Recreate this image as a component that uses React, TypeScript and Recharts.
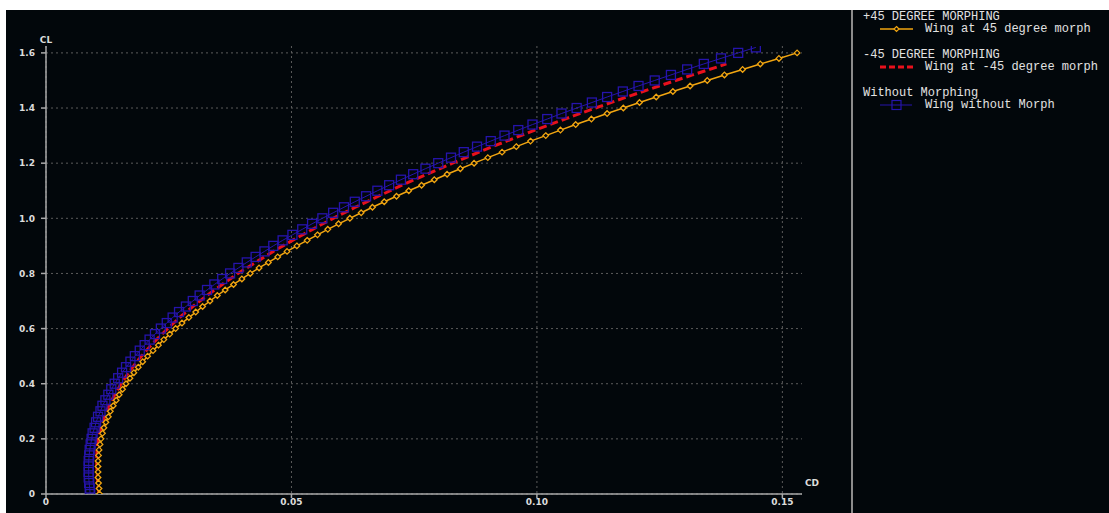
import React from 'react';
import { LineChart, Line, XAxis, YAxis, CartesianGrid, Legend, Label } from 'recharts';

// CL / CD readings, wing at +45 degree morph
const plusCL = [
  0, 0.02, 0.04, 0.06, 0.08, 0.1, 0.12, 0.14, 0.16, 0.18, 0.2, 0.22, 0.24, 0.26, 0.28, 0.3,
  0.32, 0.34, 0.36, 0.38, 0.4, 0.42, 0.44, 0.46, 0.48, 0.5, 0.52, 0.54, 0.56, 0.58, 0.6,
  0.62, 0.64, 0.66, 0.68, 0.7, 0.72, 0.74, 0.76, 0.78, 0.8, 0.82, 0.84, 0.86, 0.88, 0.9,
  0.92, 0.94, 0.96, 0.98, 1.0, 1.02, 1.04, 1.06, 1.08, 1.1, 1.12, 1.14, 1.16, 1.18, 1.2,
  1.22, 1.24, 1.26, 1.28, 1.3, 1.32, 1.34, 1.36, 1.38, 1.4, 1.42, 1.44, 1.46, 1.48, 1.5,
  1.52, 1.54, 1.56, 1.58, 1.6,
];
const plusCD = [
  0.0109, 0.0108, 0.0107, 0.0106, 0.0106, 0.0106, 0.0106, 0.0107, 0.0108, 0.011, 0.0112,
  0.0115, 0.0118, 0.0122, 0.0127, 0.0131, 0.0137, 0.0143, 0.0149, 0.0156, 0.0163,
  0.0171, 0.0179, 0.0188, 0.0197, 0.0207, 0.0218, 0.0229, 0.024, 0.0252, 0.0264,
  0.0277, 0.0291, 0.0305, 0.0319, 0.0334, 0.0349, 0.0365, 0.0382, 0.0399, 0.0416,
  0.0434, 0.0453, 0.0472, 0.0491, 0.0511, 0.0532, 0.0553, 0.0574, 0.0596, 0.0619,
  0.0642, 0.0665, 0.0689, 0.0714, 0.0739, 0.0765, 0.0791, 0.0817, 0.0844, 0.0872,
  0.09, 0.0929, 0.0958, 0.0987, 0.1018, 0.1048, 0.1079, 0.1111, 0.1143, 0.1176,
  0.1209, 0.1243, 0.1277, 0.1312, 0.1347, 0.1382, 0.1419, 0.1455, 0.1493, 0.153,
];

// wing at -45 degree morph
const minusCL = [
  0, 0.04, 0.08, 0.12, 0.16, 0.2, 0.24, 0.28, 0.32, 0.36, 0.4, 0.44, 0.48, 0.52, 0.56, 0.6,
  0.64, 0.68, 0.72, 0.76, 0.8, 0.84, 0.88, 0.92, 0.96, 1.0, 1.04, 1.08, 1.12, 1.16, 1.2,
  1.24, 1.28, 1.32, 1.36, 1.4, 1.44, 1.48, 1.52, 1.56,
];
const minusCD = [
  0.0108, 0.0105, 0.0104, 0.0103, 0.0104, 0.0106, 0.0112, 0.0119, 0.0128, 0.014, 0.0153,
  0.0168, 0.0185, 0.0204, 0.0225, 0.0248, 0.0272, 0.0299, 0.0328, 0.0359, 0.0391,
  0.0427, 0.0463, 0.0502, 0.0543, 0.0585, 0.063, 0.0677, 0.0725, 0.0776, 0.0828,
  0.0882, 0.0938, 0.0996, 0.1057, 0.1119, 0.1183, 0.1249, 0.1317, 0.1386,
];

// wing without morph
const baseCL = [
  0, 0.02, 0.04, 0.06, 0.08, 0.1, 0.12, 0.14, 0.16, 0.18, 0.2, 0.22, 0.24, 0.26, 0.28, 0.3,
  0.32, 0.34, 0.36, 0.38, 0.4, 0.42, 0.44, 0.46, 0.48, 0.5, 0.52, 0.54, 0.56, 0.58, 0.6,
  0.62, 0.64, 0.66, 0.68, 0.7, 0.72, 0.74, 0.76, 0.78, 0.8, 0.82, 0.84, 0.86, 0.88, 0.9,
  0.92, 0.94, 0.96, 0.98, 1.0, 1.02, 1.04, 1.06, 1.08, 1.1, 1.12, 1.14, 1.16, 1.18, 1.2,
  1.22, 1.24, 1.26, 1.28, 1.3, 1.32, 1.34, 1.36, 1.38, 1.4, 1.42, 1.44, 1.46, 1.48, 1.5,
  1.52, 1.54, 1.56, 1.58, 1.6, 1.62,
];
const baseCD = [
  0.009, 0.0089, 0.0088, 0.0087, 0.0087, 0.0087, 0.0087, 0.0088, 0.0089, 0.0091, 0.0093,
  0.0095, 0.0099, 0.0102, 0.0106, 0.0111, 0.0115, 0.0121, 0.0127, 0.0133, 0.014,
  0.0147, 0.0155, 0.0163, 0.0172, 0.0181, 0.0191, 0.0201, 0.0211, 0.0222, 0.0234,
  0.0246, 0.0258, 0.0271, 0.0285, 0.0299, 0.0313, 0.0328, 0.0343, 0.0359, 0.0375,
  0.0392, 0.0409, 0.0427, 0.0445, 0.0463, 0.0482, 0.0502, 0.0522, 0.0542, 0.0563,
  0.0585, 0.0607, 0.0629, 0.0652, 0.0675, 0.0699, 0.0723, 0.0748, 0.0773, 0.0799,
  0.0825, 0.0851, 0.0878, 0.0906, 0.0934, 0.0962, 0.0991, 0.1021, 0.105, 0.1081,
  0.1112, 0.1143, 0.1175, 0.1207, 0.124, 0.1273, 0.1306, 0.134, 0.1375, 0.141, 0.1446,
];

const xTicks = [0, 0.05, 0.1, 0.15];
const xTickLabels = ['0', '0.05', '0.10', '0.15'];
const yTicks = [0, 0.2, 0.4, 0.6, 0.8, 1.0, 1.2, 1.4, 1.6];
const yTickLabels = ['0', '0.2', '0.4', '0.6', '0.8', '1.0', '1.2', '1.4', '1.6'];
const X_MAX = 0.154;
const Y_MAX = 1.625;

const legendGroups = [
  { title: '+45 DEGREE MORPHING', name: 'Wing at 45 degree morph', kind: 'plus' },
  { title: '-45 DEGREE MORPHING', name: 'Wing at -45 degree morph', kind: 'minus' },
  { title: 'Without Morphing', name: 'Wing without Morph', kind: 'base' },
];

const YELLOW = '#f2a611';
const RED = '#e8101c';
const BLUE = '#2614ac';
const BG = '#02070b';
const AXIS = '#a9a9a9';
const TEXT = '#dcdcdc';
const FONT = '"DejaVu Sans", Verdana, sans-serif';

const toPoints = (cl: number[], cd: number[]) => cl.map((v, i) => ({ cd: cd[i], cl: v }));

const plusPts = toPoints(plusCL, plusCD);
const minusPts = toPoints(minusCL, minusCD);
const basePts = toPoints(baseCL, baseCD);

const renderDiamond = (p: any) => {
  if (p.cx == null || p.cy == null) return <g key={`d-${p.index}`} />;
  const s = 2.8;
  return (
    <path
      key={`d-${p.index}`}
      d={`M${p.cx},${p.cy - s}L${p.cx + s},${p.cy}L${p.cx},${p.cy + s}L${p.cx - s},${p.cy}Z`}
      fill={BG}
      stroke={YELLOW}
      strokeWidth={1.3}
    />
  );
};

const renderSquare = (p: any) => {
  if (p.cx == null || p.cy == null) return <g key={`s-${p.index}`} />;
  return (
    <rect
      key={`s-${p.index}`}
      x={p.cx - 4.5}
      y={p.cy - 4.5}
      width={9}
      height={9}
      fill="none"
      stroke={BLUE}
      strokeWidth={1.3}
    />
  );
};

const Sample = ({ kind }: { kind: string }) => (
  <svg width={40} height={12} style={{ position: 'absolute', left: 25, top: 0 }}>
    {kind === 'plus' && (
      <g>
        <line x1={2} y1={6} x2={35} y2={6} stroke={YELLOW} strokeWidth={1.5} />
        <path d="M18.5,3.5L21,6L18.5,8.5L16,6Z" fill={BG} stroke={YELLOW} strokeWidth={1.2} />
      </g>
    )}
    {kind === 'minus' && (
      <line x1={2} y1={6} x2={37} y2={6} stroke={RED} strokeWidth={3} strokeDasharray="6 3" />
    )}
    {kind === 'base' && (
      <g>
        <line x1={2} y1={6} x2={34} y2={6} stroke={BLUE} strokeWidth={1} />
        <rect x={14} y={1.5} width={9} height={9} fill="none" stroke={BLUE} strokeWidth={1.2} />
      </g>
    )}
  </svg>
);

const GroupLegend = () => {
  const titleTops = [1, 39, 77];
  return (
    <div
      style={{
        position: 'relative',
        width: 256,
        height: 503,
        borderLeft: '2px solid #8c8c8c',
        fontFamily: '"Liberation Mono", "DejaVu Sans Mono", monospace',
        fontSize: 12,
        color: '#e2e2e2',
      }}
    >
      {legendGroups.map((g, i) => (
        <div key={g.kind}>
          <div style={{ position: 'absolute', left: 10, top: titleTops[i], lineHeight: '12px', whiteSpace: 'pre' }}>
            {g.title}
          </div>
          <div style={{ position: 'absolute', left: 0, top: titleTops[i] + 12, width: 250, height: 12 }}>
            <Sample kind={g.kind} />
            <div style={{ position: 'absolute', left: 72, top: 0, lineHeight: '12px', whiteSpace: 'pre' }}>
              {g.name}
            </div>
          </div>
        </div>
      ))}
    </div>
  );
};

// grid lines only at the tick values (no extra edge lines)
const hGrid = ({ offset }: any) => yTicks.map((t) => offset.top + offset.height * (1 - t / Y_MAX));
const vGrid = ({ offset }: any) => xTicks.map((t) => offset.left + offset.width * (t / X_MAX));

export default function App() {
  const tickStyle = { fill: TEXT, fontSize: 9, fontFamily: FONT, fontWeight: 'bold' as const };
  return (
    <div style={{ position: 'fixed', left: 0, top: 0, width: 1109, height: 513, background: '#ffffff' }}>
      <div style={{ position: 'absolute', left: 6, top: 10, width: 1103, height: 503, background: BG }}>
        <LineChart width={1103} height={503} margin={{ top: 36, right: 307, left: 0, bottom: 0 }}>
          <CartesianGrid
            stroke="#5c5c5c"
            strokeDasharray="2 3"
            strokeWidth={1}
            horizontalCoordinatesGenerator={hGrid}
            verticalCoordinatesGenerator={vGrid}
          />
          <XAxis
            type="number"
            dataKey="cd"
            domain={[0, X_MAX]}
            ticks={xTicks}
            tickFormatter={(v: number) => xTickLabels[xTicks.indexOf(v)] ?? String(v)}
            allowDataOverflow
            height={19}
            tickSize={4}
            tickMargin={1}
            tick={tickStyle}
            stroke={AXIS}
            strokeWidth={1.5}
          >
            <Label
              content={({ viewBox }: any) => (
                <text
                  x={viewBox.x + viewBox.width + 10}
                  y={viewBox.y - 11}
                  textAnchor="middle"
                  dominantBaseline="central"
                  fill={TEXT}
                  fontSize={9}
                  fontWeight="bold"
                  fontFamily={FONT}
                >
                  CD
                </text>
              )}
            />
          </XAxis>
          <YAxis
            type="number"
            dataKey="cl"
            domain={[0, Y_MAX]}
            ticks={yTicks}
            tickFormatter={(v: number) => yTickLabels[yTicks.indexOf(v)] ?? String(v)}
            allowDataOverflow
            width={40}
            tickSize={5}
            tickMargin={6}
            tick={tickStyle}
            stroke={AXIS}
            strokeWidth={1.5}
          >
            <Label
              content={({ viewBox }: any) => (
                <text
                  x={viewBox.x + viewBox.width}
                  y={viewBox.y - 6}
                  textAnchor="middle"
                  dominantBaseline="central"
                  fill={TEXT}
                  fontSize={9}
                  fontWeight="bold"
                  fontFamily={FONT}
                >
                  CL
                </text>
              )}
            />
          </YAxis>
          <Legend
            layout="vertical"
            align="center"
            verticalAlign="middle"
            wrapperStyle={{ left: 845, top: 0, width: 258, height: 503 }}
            content={() => <GroupLegend />}
          />
          <Line
            data={basePts}
            dataKey="cl"
            name="Wing without Morph"
            stroke={BLUE}
            strokeWidth={1}
            dot={renderSquare}
            activeDot={false}
            isAnimationActive={false}
          />
          <Line
            data={minusPts}
            dataKey="cl"
            name="Wing at -45 degree morph"
            stroke={RED}
            strokeWidth={3}
            strokeDasharray="8 4"
            dot={false}
            activeDot={false}
            isAnimationActive={false}
          />
          <Line
            data={plusPts}
            dataKey="cl"
            name="Wing at 45 degree morph"
            stroke={YELLOW}
            strokeWidth={1.5}
            dot={renderDiamond}
            activeDot={false}
            isAnimationActive={false}
          />
        </LineChart>
      </div>
    </div>
  );
}
